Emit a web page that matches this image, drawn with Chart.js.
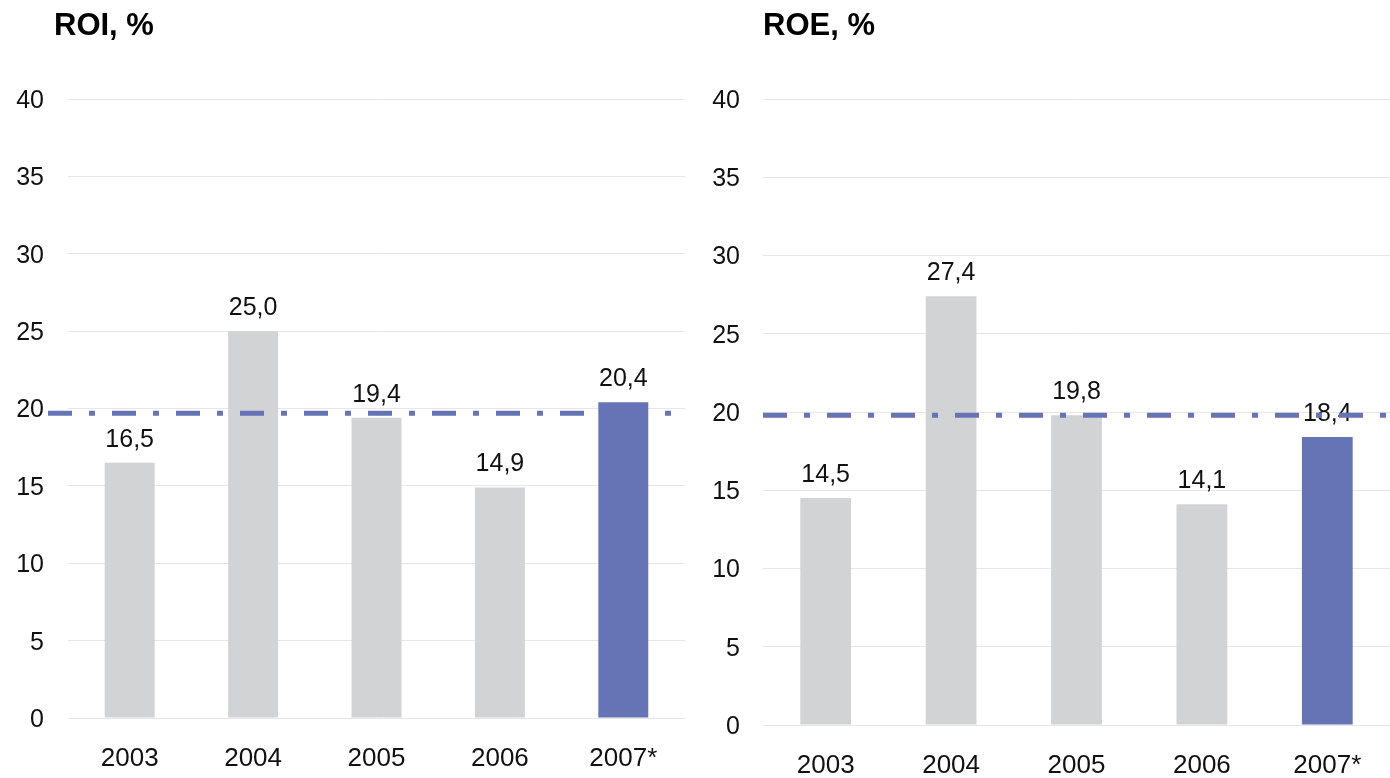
<!DOCTYPE html>
<html>
<head>
<meta charset="utf-8">
<title>ROI / ROE</title>
<script src="https://cdn.jsdelivr.net/npm/chart.js@4.4.1/dist/chart.umd.min.js"></script>
<style>
  html, body { margin: 0; padding: 0; background: #fff; }
  body { width: 1390px; height: 778px; position: relative; overflow: hidden; }
  .panel { position: absolute; top: 0; height: 778px; }
  .title {
    position: absolute; top: 7px; margin: 0;
    font: bold 31px "Liberation Sans", Arial, sans-serif; color: #000;
  }
</style>
</head>
<body>
<div class="panel" style="left:0;width:690px"><canvas id="roi"></canvas></div>
<div class="panel" style="left:695px;width:695px"><canvas id="roe"></canvas></div>
<h2 class="title" style="left:54px">ROI, %</h2>
<h2 class="title" style="left:763px">ROE, %</h2>
<script>
// ---- data ---------------------------------------------------------------
const years = ["2003", "2004", "2005", "2006", "2007*"];
const roiValues = [16.5, 25.0, 19.4, 14.9, 20.4];
const roeValues = [14.5, 27.4, 19.8, 14.1, 18.4];
const roiAverage = 19.7;
const roeAverage = 19.8;
const yMax = 40;
const yStep = 5;

// ---- look ---------------------------------------------------------------
const FONT = '"Liberation Sans", Arial, sans-serif';
const GREY = "#d2d3d5";
const BLUE = "#6674b6";
const TEXT = "#111111";

function fmt(v) {
  return v.toFixed(1).replace(".", ",");
}

// value above each bar
const valueLabels = {
  id: "valueLabels",
  afterDatasetsDraw(chart) {
    const ctx = chart.ctx;
    const ds = chart.data.datasets[0];
    ctx.save();
    ctx.font = `25px ${FONT}`;
    ctx.fillStyle = TEXT;
    ctx.textAlign = "center";
    ctx.textBaseline = "middle";
    chart.getDatasetMeta(0).data.forEach((bar, i) => {
      ctx.fillText(fmt(ds.data[i]), bar.x, bar.y - 23);
    });
    ctx.restore();
  },
};

// dash-dot average line, drawn on top of everything
const avgLine = {
  id: "avgLine",
  afterDraw(chart, args, opts) {
    const { ctx, chartArea } = chart;
    const y = chart.scales.y.getPixelForValue(opts.value);
    ctx.save();
    ctx.strokeStyle = BLUE;
    ctx.lineWidth = 5;
    ctx.setLineDash([24, 17, 6, 17]);
    ctx.beginPath();
    ctx.moveTo(chartArea.left - (opts.overhang || 0), y);
    ctx.lineTo(chartArea.right, y);
    ctx.stroke();
    ctx.restore();
  },
};

function makeChart(id, values, average, o) {
  const last = values.length - 1;
  return new Chart(document.getElementById(id), {
    type: "bar",
    data: {
      labels: years,
      datasets: [{
        data: values,
        backgroundColor: values.map((_, i) => (i === last ? BLUE : GREY)),
        borderWidth: 0,
        barPercentage: 0.405,
        categoryPercentage: 1,
      }],
    },
    options: {
      responsive: true,
      maintainAspectRatio: false,
      animation: false,
      layout: { padding: { top: 99, right: o.padRight, bottom: 0, left: 0 } },
      plugins: {
        legend: { display: false },
        tooltip: { enabled: false },
        avgLine: { value: average, overhang: o.overhang },
      },
      scales: {
        x: {
          grid: { display: false },
          border: { display: false },
          ticks: { color: TEXT, font: { family: FONT, size: 26 }, padding: o.xPad },
          afterFit: (s) => { s.height = o.xHeight; },
        },
        y: {
          min: 0,
          max: yMax,
          grid: { color: "#e6e6e6", lineWidth: 1, drawTicks: false },
          border: { display: false },
          ticks: { stepSize: yStep, color: TEXT, font: { family: FONT, size: 25 }, padding: o.yPad, labelOffset: 2 },
          afterFit: (s) => { s.width = 68; },
        },
      },
    },
    plugins: [valueLabels, avgLine],
  });
}

makeChart("roi", roiValues, roiAverage, { padRight: 5, overhang: 20, xPad: 17, xHeight: 60, yPad: 24 });
makeChart("roe", roeValues, roeAverage, { padRight: 0, overhang: 0, xPad: 17, xHeight: 53, yPad: 23 });
</script>
</body>
</html>
